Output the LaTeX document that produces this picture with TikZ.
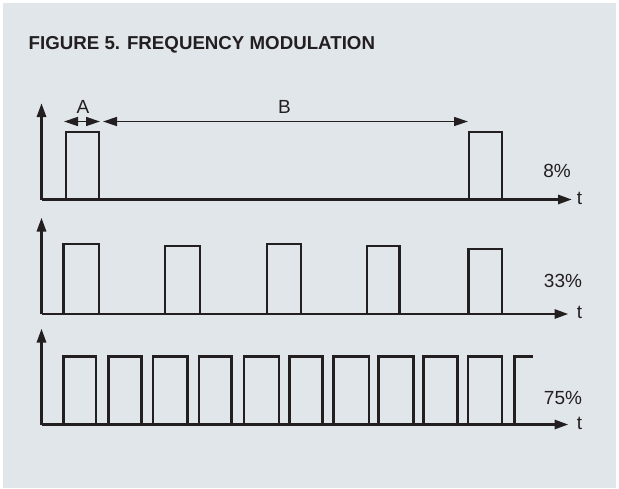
\documentclass[tikz,border=0pt]{standalone}
\usepackage{fontspec}
\setmainfont{Liberation Sans}
\usetikzlibrary{arrows.meta}
\definecolor{bg}{RGB}{225,230,234}
\definecolor{ink}{RGB}{35,31,32}
\begin{document}
\begin{tikzpicture}[x=1pt,y=-1pt,
  axis/.style={draw=ink,line width=2.9pt,-{Triangle[length=14pt,width=9pt]}},
  wave/.style={draw=ink,line width=2.9pt,line join=miter},
  dim/.style={draw=ink,line width=1.5pt,{Triangle[length=14pt,width=9pt]}-{Triangle[length=14pt,width=9pt]}},
  lbl/.style={text=ink,font=\fontsize{19}{22}\selectfont,inner sep=0pt}]
\useasboundingbox (0,0) rectangle (619,488);
\fill[white] (0,0) rectangle (619,488);
\fill[bg] (3,3) rectangle (616,488);
\node[anchor=base west,inner sep=0pt,text=ink,font=\fontsize{18.7}{22}\selectfont\bfseries] (title) at (28.5,49) {FIGURE 5. FREQUENCY MODULATION};
% ---- row 1 (8%) ----
\coordinate (o1) at (41.5,199.5);
\coordinate (y1) at (41.5,103);
\coordinate (t1) at (572,199.5);
\draw[axis] (o1) -- (y1);
\draw[axis] (o1) -- (t1);
\draw[wave] (66,199.5) -- (66,132) -- (99,132) -- (99,199.5);
\draw[wave] (469,199.5) -- (469,132) -- (502,132) -- (502,199.5);
\coordinate (a1) at (64,121.5);
\coordinate (a2) at (100,121.5);
\coordinate (b1) at (103,121.5);
\coordinate (b2) at (468,121.5);
\draw[dim] (a1) -- (a2);
\draw[dim] (b1) -- (b2);
\node[lbl] (A) at (83,107) {A};
\node[lbl] (B) at (284.5,107) {B};
\node[lbl] (p1) at (557,171) {8\%};
\node[lbl] (tl1) at (579.5,198) {t};
% ---- row 2 (33%) ----
\coordinate (o2) at (41.5,314);
\coordinate (y2) at (41.5,217.5);
\coordinate (t2) at (568.5,314);
\draw[axis] (o2) -- (y2);
\draw[axis] (o2) -- (t2);
\foreach \a/\b/\h in {63.5/99/244,165/200/246,267/301/244,367/399.5/246,468.5/502/249}
  \draw[wave] (\a,314) -- (\a,\h) -- (\b,\h) -- (\b,314);
\node[lbl] (p2) at (563,281) {33\%};
\node[lbl] (tl2) at (579.5,312.5) {t};
% ---- row 3 (75%) ----
\coordinate (o3) at (41.5,424.5);
\coordinate (y3) at (41.5,328.5);
\coordinate (t3) at (568.5,424.5);
\draw[axis] (o3) -- (y3);
\draw[axis] (o3) -- (t3);
\foreach \a/\b in {63.5/96,108.5/141.5,153/187.5,199/231.5,244/279,289.5/322.5,333.5/369,378.5/413.5,423.5/457.5,468/502}
  \draw[wave] (\a,424.5) -- (\a,356.5) -- (\b,356.5) -- (\b,424.5);
\draw[wave] (514.5,424.5) -- (514.5,356.5) -- (533,356.5);
\node[lbl] (p3) at (563,398) {75\%};
\node[lbl] (tl3) at (579.5,423) {t};
\end{tikzpicture}
\end{document}
